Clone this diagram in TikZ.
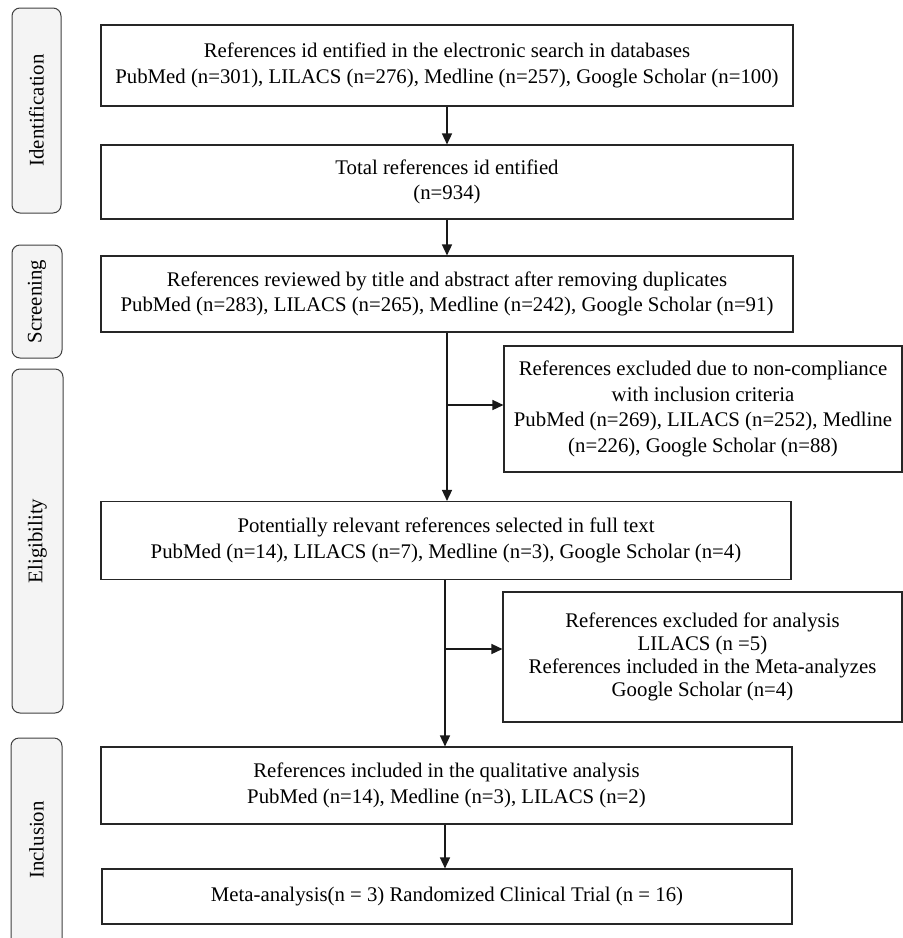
\documentclass[tikz,border=0pt]{standalone}
\usepackage{fontspec}
\setmainfont{Liberation Serif}
\usetikzlibrary{arrows.meta}
\begin{document}
\begin{tikzpicture}[x=1pt,y=-1pt,
  box/.style={draw=black!85,line width=1.1pt,fill=white,align=center,inner sep=2pt,
    font=\fontsize{20.8}{25.4}\selectfont,anchor=center},
  stage/.style={draw=black!75,line width=1pt,fill=gray!9,rounded corners=8pt},
  stagetext/.style={rotate=90,font=\fontsize{20.8}{24}\selectfont,anchor=center},
  arr/.style={line width=1.4pt,draw=black!90,-{Triangle[length=11pt,width=10pt]}}]
\clip (0,0) rectangle (903,938);
\useasboundingbox (0,0) rectangle (903,938);
% stage labels
\draw[stage] (12,8) rectangle (61,213);
\node[stagetext] (sid) at (36.5,110.5) {Identification};
\draw[stage] (12,245) rectangle (62,358);
\node[stagetext] (ssc) at (37,301.5) {Screening};
\draw[stage] (12,369) rectangle (63,713);
\node[stagetext] (sel) at (37.5,541) {Eligibility};
\draw[stage] (11,738) rectangle (62,960);
\node[stagetext] (sin) at (36.5,840) {Inclusion};
% main boxes
\node[box,minimum width=692pt,minimum height=81pt] (b1) at (447,65.5)
 {References id entified in the electronic search in databases\\PubMed (n=301), LILACS (n=276), Medline (n=257), Google Scholar (n=100)};
\node[box,minimum width=692pt,minimum height=74pt] (b2) at (447,182)
 {Total references id entified\\(n=934)};
\node[box,minimum width=692pt,minimum height=76pt] (b3) at (447,294)
 {References reviewed by title and abstract after removing duplicates\\PubMed (n=283), LILACS (n=265), Medline (n=242), Google Scholar (n=91)};
\node[box,minimum width=398pt,minimum height=126pt] (e1) at (703,409)
 {References excluded due to non-compliance\\with inclusion criteria\\PubMed (n=269), LILACS (n=252), Medline\\(n=226), Google Scholar (n=88)};
\node[box,minimum width=690pt,minimum height=78pt] (b4) at (446,540.5)
 {Potentially relevant references selected in full text\\PubMed (n=14), LILACS (n=7), Medline (n=3), Google Scholar (n=4)};
\node[box,minimum width=399pt,minimum height=130pt,font=\fontsize{20.8}{23.2}\selectfont] (e2) at (702.5,657)
 {References excluded for analysis\\LILACS (n =5)\\References included in the Meta-analyzes\\Google Scholar (n=4)};
\node[box,minimum width=691pt,minimum height=77pt] (b5) at (446.5,785.5)
 {References included in the qualitative analysis\\PubMed (n=14), Medline (n=3), LILACS (n=2)};
\node[box,minimum width=690pt,minimum height=55pt] (b6) at (447,896.5)
 {Meta-analysis(n = 3) Randomized Clinical Trial (n = 16)};
% connectors
\coordinate (j1) at (447,405);
\coordinate (j2) at (445,649);
\draw[arr] (b1.south -| j1) -- (b2.north -| j1);
\draw[arr] (b2.south -| j1) -- (b3.north -| j1);
\draw[arr] (b3.south -| j1) -- (b4.north -| j1);
\draw[arr] (j1) -- (e1.west |- j1);
\draw[arr] (b4.south -| j2) -- (b5.north -| j2);
\draw[arr] (j2) -- (e2.west |- j2);
\draw[arr] (b5.south -| j2) -- (b6.north -| j2);
\end{tikzpicture}
\end{document}
